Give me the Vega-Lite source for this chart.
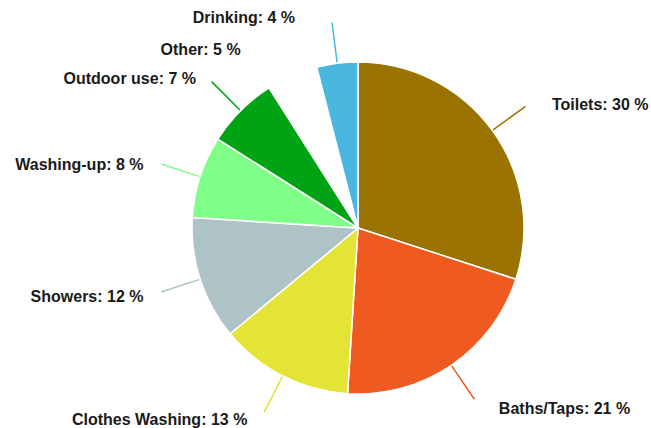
{
  "$schema": "https://vega.github.io/schema/vega-lite/v6.json",
  "width": 586,
  "height": 400,
  "autosize": "none",
  "padding": {"left": 65, "top": 28, "right": 0, "bottom": 0},
  "background": "white",
  "view": {"stroke": null},
  "data": {"values": [
    {"use": "Toilets", "pct": 30},
    {"use": "Baths/Taps", "pct": 21},
    {"use": "Clothes Washing", "pct": 13},
    {"use": "Showers", "pct": 12},
    {"use": "Washing-up", "pct": 8},
    {"use": "Outdoor use", "pct": 7},
    {"use": "Other", "pct": 5},
    {"use": "Drinking", "pct": 4}
  ]},
  "transform": [
    {"window": [{"op": "row_number", "as": "rank"}, {"op": "sum", "field": "pct", "as": "cum"}], "frame": [null, 0]},
    {"calculate": "datum.cum - datum.pct / 2", "as": "mid"},
    {"calculate": "datum.use + ': ' + datum.pct + ' %'", "as": "label"}
  ],
  "encoding": {
    "color": {
      "field": "use",
      "type": "nominal",
      "legend": null,
      "scale": {
        "domain": ["Toilets", "Baths/Taps", "Clothes Washing", "Showers", "Washing-up", "Outdoor use", "Other", "Drinking"],
        "range": ["#9a7300", "#ee5a1f", "#e4e436", "#adc3c7", "#80ff88", "#00a314", "#ffffff", "#4ab8de"]
      }
    }
  },
  "layer": [
    {
      "mark": {"type": "arc", "outerRadius": 166, "stroke": "white", "strokeWidth": 1.5},
      "encoding": {
        "theta": {"field": "pct", "type": "quantitative", "stack": true, "scale": {"domain": [0, 100]}},
        "order": {"field": "rank", "type": "quantitative"}
      }
    },
    {
      "mark": {"type": "arc", "filled": false, "outerRadius": 207, "innerRadius": 167, "strokeWidth": 1.5},
      "encoding": {
        "theta": {"field": "mid", "type": "quantitative", "stack": null, "scale": {"domain": [0, 100]}},
        "theta2": {"field": "mid"}
      }
    },
    {
      "transform": [{"filter": "datum.mid < 50"}],
      "mark": {"type": "text", "radius": 215, "align": "left", "baseline": "middle", "dx": 20, "dy": 3, "font": "Liberation Sans", "fontWeight": "bold", "fontSize": 16},
      "encoding": {
        "theta": {"field": "mid", "type": "quantitative", "stack": null, "scale": {"domain": [0, 100]}},
        "text": {"field": "label"},
        "color": {"value": "#1a1a1a"}
      }
    },
    {
      "transform": [{"filter": "datum.use == 'Clothes Washing'"}],
      "mark": {"type": "text", "radius": 215, "align": "right", "baseline": "middle", "dx": -13, "dy": 0, "font": "Liberation Sans", "fontWeight": "bold", "fontSize": 16},
      "encoding": {
        "theta": {"field": "mid", "type": "quantitative", "stack": null, "scale": {"domain": [0, 100]}},
        "text": {"field": "label"},
        "color": {"value": "#1a1a1a"}
      }
    },
    {
      "transform": [{"filter": "datum.mid >= 60 && datum.mid < 90"}],
      "mark": {"type": "text", "radius": 215, "align": "right", "baseline": "middle", "dx": -10, "dy": 3, "font": "Liberation Sans", "fontWeight": "bold", "fontSize": 16},
      "encoding": {
        "theta": {"field": "mid", "type": "quantitative", "stack": null, "scale": {"domain": [0, 100]}},
        "text": {"field": "label"},
        "color": {"value": "#1a1a1a"}
      }
    },
    {
      "transform": [{"filter": "datum.use == 'Other'"}],
      "mark": {"type": "text", "radius": 215, "align": "right", "baseline": "middle", "dx": -32, "dy": 19, "font": "Liberation Sans", "fontWeight": "bold", "fontSize": 16},
      "encoding": {
        "theta": {"field": "mid", "type": "quantitative", "stack": null, "scale": {"domain": [0, 100]}},
        "text": {"field": "label"},
        "color": {"value": "#1a1a1a"}
      }
    },
    {
      "transform": [{"filter": "datum.use == 'Drinking'"}],
      "mark": {"type": "text", "radius": 215, "align": "right", "baseline": "middle", "dx": -36, "dy": 3, "font": "Liberation Sans", "fontWeight": "bold", "fontSize": 16},
      "encoding": {
        "theta": {"field": "mid", "type": "quantitative", "stack": null, "scale": {"domain": [0, 100]}},
        "text": {"field": "label"},
        "color": {"value": "#1a1a1a"}
      }
    }
  ]
}
